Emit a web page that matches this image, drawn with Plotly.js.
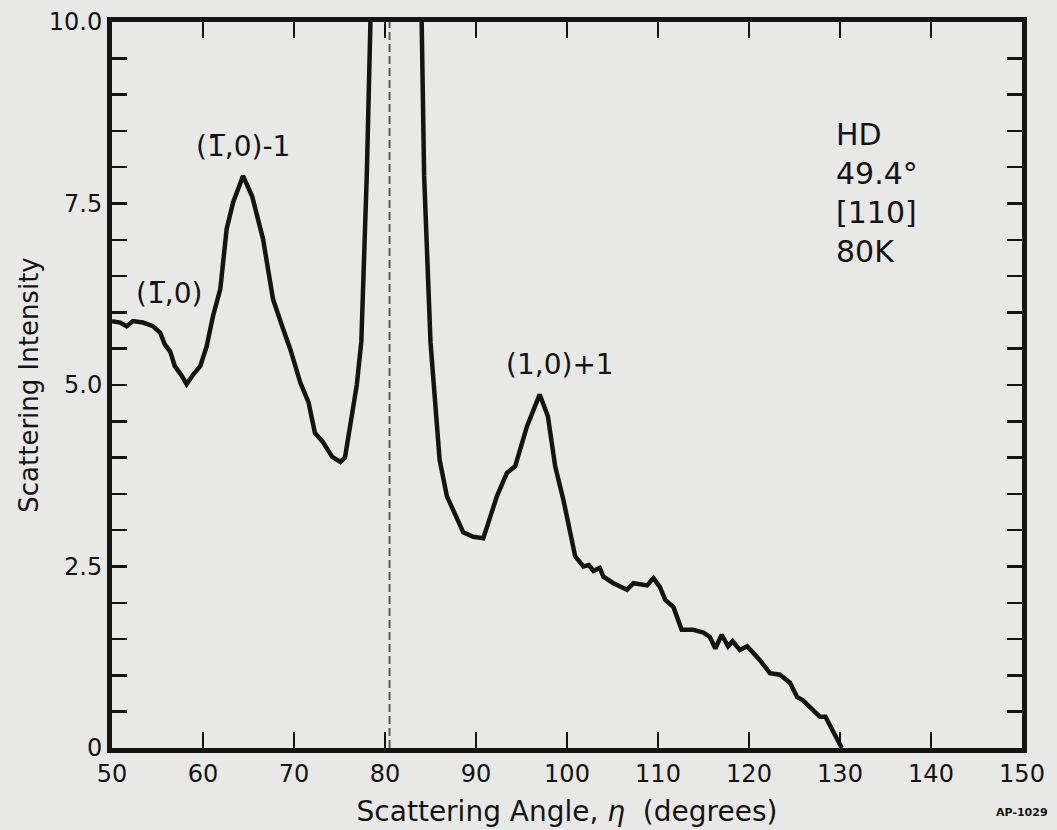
<!DOCTYPE html>
<html>
<head>
<meta charset="utf-8">
<script src="https://cdn.plot.ly/plotly-3.0.1.min.js"></script>
<style>
  html, body { margin: 0; padding: 0; background: #e8e8e6; }
  #chart { width: 1057px; height: 830px; }
</style>
</head>
<body>
<div id="chart"></div>
<script>
// Scattering angle (degrees) and scattering intensity
const angle = [
  50.0, 50.9, 51.6, 52.3, 53.4, 54.5, 55.3, 55.8, 56.4, 56.9,
  57.7, 58.2, 58.9, 59.7, 60.4, 61.1, 61.9, 62.6, 63.3, 64.4,
  65.4, 66.6, 67.1, 67.7, 68.7, 69.6, 70.7, 71.6, 72.3, 73.2,
  74.2, 75.1, 75.6, 76.3, 76.9, 77.4, 78.0, 78.4, 78.7, 80.5,
  83.8, 84.03, 84.3, 85.0, 85.5, 86.0, 86.8, 87.5, 88.6, 89.7,
  90.8, 91.3, 92.3, 93.4, 94.3, 95.6, 97.0, 97.9, 98.7, 99.6,
  100.3, 100.9, 101.8, 102.4, 102.9, 103.6, 104.0, 105.1, 106.6, 107.3,
  108.8, 109.5, 110.2, 110.8, 111.7, 112.6, 113.8, 115.0, 115.7, 116.3,
  117.0, 117.7, 118.2, 119.0, 119.8, 121.2, 122.3, 123.4, 124.5, 125.3,
  125.9, 127.0, 127.8, 128.4, 129.2, 130.2
];
const intensity = [
  5.88, 5.86, 5.81, 5.88, 5.86, 5.81, 5.72, 5.56, 5.46, 5.26,
  5.12, 5.01, 5.14, 5.26, 5.53, 5.95, 6.32, 7.15, 7.51, 7.88,
  7.60, 7.01, 6.63, 6.18, 5.81, 5.49, 5.03, 4.76, 4.34, 4.21,
  4.01, 3.94, 4.00, 4.50, 5.00, 5.60, 7.90, 10.0, 12.0, 16.0,
  12.0, 10.0, 7.88, 5.59, 4.80, 3.97, 3.47, 3.28, 2.97, 2.91,
  2.89, 3.08, 3.47, 3.79, 3.88, 4.43, 4.87, 4.57, 3.88, 3.42,
  3.01, 2.64, 2.50, 2.52, 2.44, 2.48, 2.36, 2.27, 2.18, 2.27,
  2.24, 2.34, 2.22, 2.04, 1.94, 1.63, 1.63, 1.59, 1.53, 1.37,
  1.56, 1.40, 1.47, 1.35, 1.40, 1.21, 1.03, 1.01, 0.90, 0.70,
  0.66, 0.52, 0.43, 0.43, 0.25, 0.00
];

// Axis ticks
const xTickVals = [50, 60, 70, 80, 90, 100, 110, 120, 130, 140, 150];
const xTickText = ["50", "60", "70", "80", "90", "100", "110", "120", "130", "140", "150"];
const yTickVals = [0, 0.5, 1, 1.5, 2, 2.5, 3, 3.5, 4, 4.5, 5, 5.5, 6, 6.5, 7, 7.5, 8, 8.5, 9, 9.5, 10];
const yTickText = ["0", "", "", "", "", "2.5", "", "", "", "", "5.0", "", "", "", "", "7.5", "", "", "", "", "10.0"];

// Reference line (specular angle) and peak labels
const refAngle = 80.5;
const peakLabels = ["(1\u0305,0)-1", "(1\u0305,0)", "(1,0)+1"];
const peakLabelX = [64.4, 56.3, 99.2];
const peakLabelY = [8.28, 6.26, 5.28];
const infoLines = ["HD", "49.4\u00B0", "[110]", "80K"];

const FONT = "DejaVu Sans, Noto Sans, sans-serif";
const INK = "#141414";

const trace = {
  x: angle,
  y: intensity,
  type: "scatter",
  mode: "lines",
  line: { color: INK, width: 4.5 },
  hoverinfo: "skip"
};

const annotations = peakLabels.map((t, i) => ({
  x: peakLabelX[i], y: peakLabelY[i], xref: "x", yref: "y",
  text: t, showarrow: false,
  font: { family: FONT, size: 28, color: INK },
  xanchor: "center", yanchor: "middle"
}));
annotations.push({
  x: 129.3, y: 8.72, xref: "x", yref: "y",
  text: infoLines.join("<br>"), showarrow: false, align: "left",
  font: { family: FONT, size: 30, color: INK },
  xanchor: "left", yanchor: "top"
});
annotations.push({
  x: (1022 - 112) / (1057 - 112 - 35), y: -(812 - 748) / (748 - 22),
  xref: "paper", yref: "paper",
  text: "<b>AP-1029</b>", showarrow: false,
  font: { family: FONT, size: 11, color: INK },
  xanchor: "center", yanchor: "middle"
});

const layout = {
  width: 1057,
  height: 830,
  paper_bgcolor: "#e8e8e6",
  plot_bgcolor: "#e8e8e6",
  margin: { l: 112, r: 35, t: 22, b: 82 },
  showlegend: false,
  font: { family: FONT, color: INK },
  xaxis: {
    range: [50, 150],
    tickmode: "array",
    tickvals: xTickVals,
    ticktext: xTickText,
    ticks: "inside",
    ticklen: 16,
    tickwidth: 2.5,
    tickcolor: INK,
    showline: true,
    linewidth: 5,
    linecolor: INK,
    mirror: "ticks",
    showgrid: false,
    zeroline: false,
    tickfont: { family: FONT, size: 24, color: INK },
    title: {
      text: "Scattering Angle, <i>\u03B7</i>  (degrees)",
      font: { family: FONT, size: 28, color: INK },
      standoff: 16
    }
  },
  yaxis: {
    range: [0, 10],
    tickmode: "array",
    tickvals: yTickVals,
    ticktext: yTickText,
    ticks: "inside",
    ticklen: 15,
    tickwidth: 2.5,
    tickcolor: INK,
    showline: true,
    linewidth: 5,
    linecolor: INK,
    mirror: "ticks",
    showgrid: false,
    zeroline: false,
    tickfont: { family: FONT, size: 24, color: INK },
    title: {
      text: "Scattering Intensity",
      font: { family: FONT, size: 26, color: INK },
      standoff: 4
    }
  },
  shapes: [{
    type: "line", xref: "x", yref: "y",
    x0: refAngle, x1: refAngle, y0: 0, y1: 10,
    line: { color: "#5a5a5a", width: 2, dash: "8px,4px" }
  }],
  annotations: annotations
};

Plotly.newPlot("chart", [trace], layout, { staticPlot: true, displayModeBar: false });
</script>
</body>
</html>
